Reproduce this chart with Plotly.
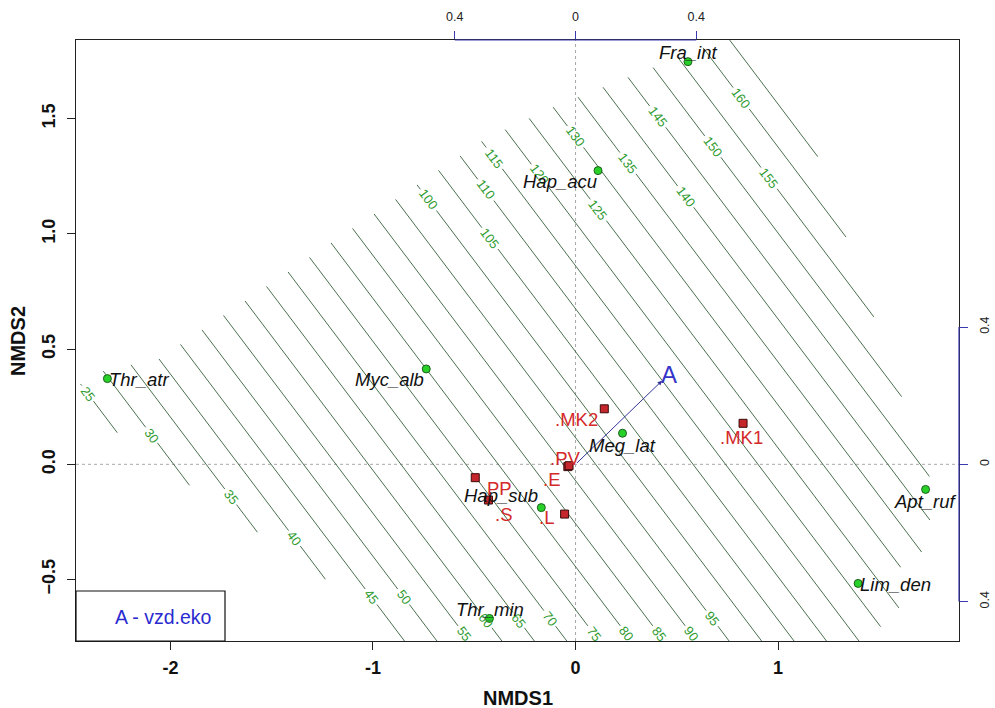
import math
import plotly.graph_objects as go

# ---------------------------------------------------------------------------
# Ordination scores (NMDS1, NMDS2)
# ---------------------------------------------------------------------------
species = ["Fra_int", "Hap_acu", "Thr_atr", "Myc_alb", "Meg_lat",
           "Apt_ruf", "Lim_den", "Hap_sub", "Thr_min"]
species_x = [0.555, 0.111, -2.311, -0.737, 0.232, 1.728, 1.395, -0.169, -0.425]
species_y = [1.748, 1.275, 0.372, 0.414, 0.135, -0.109, -0.517, -0.188, -0.669]

sites = [".MK2", ".MK1", ".PV", ".E", "PP", ".S", ".L"]
site_x = [0.142, 0.827, -0.038, -0.032, -0.495, -0.430, -0.054]
site_y = [0.241, 0.178, -0.010, -0.006, -0.058, -0.155, -0.216]

# Fitted environmental vector (envfit units) and its plotting multiplier
vector_name = "A"
vector_xy = [0.2866, 0.2436]
vector_mul = 1.49
vector_legend = "A - vzd.eko"
vector_ticks = [-0.4, 0.0, 0.4]
vector_ticktext = ["0.4", "0", "0.4"]

# Fitted surface (linear): value = intercept + g1*NMDS1 + g2*NMDS2
surf_intercept = 91.9
surf_grad = [31.2, 26.8]
levels = list(range(25, 170, 5))

# Region over which the surface was evaluated
domain_x = [-2.48, -2.32, -2.06, -0.45, -0.10, 0.78, 1.19, 1.33, 1.75, 1.75,
            1.71, 1.60, 1.60, 1.40, -0.80, -1.20, -2.22]
domain_y = [0.33, 0.41, 0.455, 1.41, 1.555, 1.86, 1.35, 1.0, -0.06, -0.24,
            -0.38, -0.45, -0.62, -0.80, -0.80, -0.52, 0.10]

# ---------------------------------------------------------------------------
# Layout constants
# ---------------------------------------------------------------------------
W, H = 995, 708
ML, MR, MT, MB = 76, 36, 40, 67
XR = [-2.466, 1.893]
YR = [-0.767, 1.842]
FONT = "Liberation Sans, Arial, sans-serif"

sx = (W - ML - MR) / (XR[1] - XR[0])   # px per NMDS1 unit
sy = (H - MT - MB) / (YR[1] - YR[0])   # px per NMDS2 unit

# Where along each contour its label sits (NMDS2 coordinate)
label_at_y = {25: 0.308, 30: 0.127, 35: -0.141, 40: -0.321, 45: -0.575,
              50: -0.575, 55: -0.735, 60: -0.676, 65: -0.676, 70: -0.669,
              75: -0.735, 80: -0.735, 85: -0.735, 90: -0.735, 95: -0.669,
              100: 1.148, 105: 0.981, 110: 1.191, 115: 1.329, 120: 1.256,
              125: 1.104, 130: 1.422, 135: 1.307, 140: 1.162, 145: 1.509,
              150: 1.379, 155: 1.242, 160: 1.589}

# Label placement around points: (xanchor, xshift, yshift)
species_pos = {"Fra_int": ("center", 0, 9), "Hap_acu": ("right", 1, -11),
               "Thr_atr": ("left", 0, -1), "Myc_alb": ("right", 0, -11),
               "Meg_lat": ("center", 0, -12), "Apt_ruf": ("center", 0, -12),
               "Lim_den": ("left", 0, -1), "Hap_sub": ("right", -1, 12),
               "Thr_min": ("center", 1, 9)}
site_pos = {".MK2": ("right", -4, -11), ".MK1": ("center", -2, -14),
            ".PV": ("center", -3, 8), ".E": ("right", -7, -14),
            "PP": ("left", 10, -11), ".S": ("left", 5, -14),
            ".L": ("right", -9, -3)}

LINE_COL = "#35603a"
LAB_COL = "#2e9a2e"

# ---------------------------------------------------------------------------
# Contour lines of the planar surface, clipped to the evaluated region
# ---------------------------------------------------------------------------
g1, g2 = surf_grad
gn = math.hypot(g1, g2)
dx, dy = g2 / gn, -g1 / gn                       # direction along a contour
px_per_t = math.hypot(dx * sx, dy * sy)
poly = list(zip(domain_x, domain_y))
angle = math.degrees(math.atan2(g1 * sy, g2 * sx))
LAB_SIZE = 13


def segments_for(level):
    k = (level - surf_intercept) / (gn * gn)
    p0 = (k * g1, k * g2)
    vals = [surf_intercept + g1 * px + g2 * py - level for px, py in poly]
    ts = []
    n = len(poly)
    for i in range(n):
        j = (i + 1) % n
        a, b = vals[i], vals[j]
        if (a < 0) != (b < 0):
            s = a / (a - b)
            X = poly[i][0] + s * (poly[j][0] - poly[i][0])
            Y = poly[i][1] + s * (poly[j][1] - poly[i][1])
            ts.append((X - p0[0]) * dx + (Y - p0[1]) * dy)
    ts.sort()
    segs = [(ts[i], ts[i + 1]) for i in range(0, len(ts) - 1, 2)]
    return p0, segs


line_x, line_y = [], []
contour_labels = []
for lev in levels:
    p0, segs = segments_for(lev)
    if lev in label_at_y:
        ly = label_at_y[lev]
        lx = (lev - surf_intercept - g2 * ly) / g1
        tl = (lx - p0[0]) * dx + (ly - p0[1]) * dy
        half = (len(str(lev)) * 0.556 * LAB_SIZE / 2 + 2.5) / px_per_t
        cut = []
        for t0, t1 in segs:
            if t1 < tl - half or t0 > tl + half:
                cut.append((t0, t1))
            else:
                if tl - half > t0:
                    cut.append((t0, tl - half))
                if tl + half < t1:
                    cut.append((tl + half, t1))
        segs = cut
        contour_labels.append(dict(
            x=lx, y=ly, xref="x", yref="y", text=str(lev), showarrow=False,
            textangle=angle,
            font=dict(family=FONT, size=LAB_SIZE, color=LAB_COL),
            xanchor="center", yanchor="middle"))
    for t0, t1 in segs:
        for t in (t0, t1):
            line_x.append(p0[0] + t * dx)
            line_y.append(p0[1] + t * dy)
        line_x.append(None)
        line_y.append(None)

fig = go.Figure()

fig.add_trace(go.Scatter(x=line_x, y=line_y, mode="lines",
                         line=dict(color=LINE_COL, width=0.9),
                         hoverinfo="skip", showlegend=False))

fig.add_trace(go.Scatter(x=species_x, y=species_y, mode="markers",
                         marker=dict(symbol="circle", size=8, color="#27d127",
                                     line=dict(color="#1d5e1d", width=1)),
                         showlegend=False, hoverinfo="skip"))

fig.add_trace(go.Scatter(x=site_x, y=site_y, mode="markers",
                         marker=dict(symbol="square", size=8, color="#c4262b",
                                     line=dict(color="#3a0a0a", width=1)),
                         showlegend=False, hoverinfo="skip"))

# invisible trace that carries the vector-scale axes
fig.add_trace(go.Scatter(x=[XR[0] / vector_mul, XR[1] / vector_mul],
                         y=[YR[0] / vector_mul, YR[1] / vector_mul],
                         xaxis="x2", yaxis="y2", mode="markers",
                         marker=dict(opacity=0), showlegend=False,
                         hoverinfo="skip"))

annotations = list(contour_labels)

# environmental vector
tip_x = vector_xy[0] * vector_mul
tip_y = vector_xy[1] * vector_mul
annotations.append(dict(x=tip_x, y=tip_y, ax=0, ay=0, xref="x", yref="y",
                        axref="x", ayref="y", text="", showarrow=True,
                        arrowhead=2, arrowsize=0.9, arrowwidth=1,
                        arrowcolor="#34349a"))
annotations.append(dict(x=tip_x * 1.075, y=tip_y * 1.075, xref="x", yref="y",
                        text=vector_name, showarrow=False,
                        font=dict(family=FONT, size=24, color="#3434c8"),
                        xanchor="center", yanchor="middle"))

for name, x, y in zip(species, species_x, species_y):
    xa, xs, ys = species_pos[name]
    annotations.append(dict(x=x, y=y, xref="x", yref="y",
                            text="<i>%s</i>" % name, showarrow=False,
                            xanchor=xa, yanchor="middle", xshift=xs, yshift=ys,
                            font=dict(family=FONT, size=18.5, color="#111111")))

for name, x, y in zip(sites, site_x, site_y):
    xa, xs, ys = site_pos[name]
    annotations.append(dict(x=x, y=y, xref="x", yref="y", text=name,
                            showarrow=False, xanchor=xa, yanchor="middle",
                            xshift=xs, yshift=ys,
                            font=dict(family=FONT, size=18.5, color="#d42a2a")))

# legend box
box_w = 149 / (W - ML - MR)
box_h = 50 / (H - MT - MB)
annotations.append(dict(x=box_w * 0.585, y=box_h * 0.49, xref="paper",
                        yref="paper", text=vector_legend, showarrow=False,
                        xanchor="center", yanchor="middle",
                        font=dict(family=FONT, size=19.5, color="#2a2ad0")))

# axis titles
annotations.append(dict(x=0.5, y=-57 / (H - MT - MB), xref="paper",
                        yref="paper", text="<b>NMDS1</b>", showarrow=False,
                        xanchor="center", yanchor="middle",
                        font=dict(family=FONT, size=20, color="#111111")))
annotations.append(dict(x=-58.5 / (W - ML - MR), y=0.5, xref="paper",
                        yref="paper", text="<b>NMDS2</b>", showarrow=False,
                        textangle=-90, xanchor="center", yanchor="middle",
                        font=dict(family=FONT, size=20, color="#111111")))

shapes = [
    dict(type="line", xref="x", yref="paper", x0=0, x1=0, y0=0, y1=1,
         line=dict(color="#a8a8a8", width=1, dash="3px,3px"), layer="below"),
    dict(type="line", xref="paper", yref="y", x0=0, x1=1, y0=0, y1=0,
         line=dict(color="#a8a8a8", width=1, dash="3px,3px"), layer="below"),
    dict(type="rect", xref="paper", yref="paper", x0=0, x1=box_w, y0=0,
         y1=box_h, line=dict(color="#111111", width=1.2),
         fillcolor="white", layer="above"),
    # vector-scale axis lines
    dict(type="line", xref="x", yref="paper",
         x0=vector_ticks[0] * vector_mul, x1=vector_ticks[-1] * vector_mul,
         y0=1, y1=1, line=dict(color="#3a3ab0", width=1.2), layer="above"),
    dict(type="line", xref="paper", yref="y", x0=1, x1=1,
         y0=vector_ticks[0] * vector_mul, y1=vector_ticks[-1] * vector_mul,
         line=dict(color="#3a3ab0", width=1.2), layer="above"),
]

tickfont = dict(family=FONT, size=18, color="#111111", weight="bold")
small_font = dict(family=FONT, size=12.5, color="#222222")
fig.update_layout(
    width=W, height=H,
    margin=dict(l=ML, r=MR, t=MT, b=MB, pad=0, autoexpand=False),
    paper_bgcolor="white", plot_bgcolor="white",
    showlegend=False, hovermode=False,
    xaxis=dict(range=XR, tickvals=[-2, -1, 0, 1], ticktext=["-2", "-1", "0", "1"],
               ticks="outside", ticklen=8, tickwidth=1, tickcolor="#222222",
               showline=True, mirror=True, linecolor="#222222", linewidth=1.3,
               showgrid=False, zeroline=False, tickfont=tickfont,
               ticklabelstandoff=2, automargin=False),
    yaxis=dict(range=YR, tickvals=[-0.5, 0, 0.5, 1.0, 1.5], tickformat=".1f",
               ticks="outside", ticklen=8, tickwidth=1, tickcolor="#222222",
               showline=True, mirror=True, linecolor="#222222", linewidth=1.3,
               showgrid=False, zeroline=False, tickfont=tickfont,
               tickangle=-90, ticklabelstandoff=5, automargin=False),
    xaxis2=dict(overlaying="x", side="top", anchor="y",
                range=[XR[0] / vector_mul, XR[1] / vector_mul],
                tickvals=vector_ticks, ticktext=vector_ticktext,
                ticks="outside", ticklen=8, tickwidth=1, tickcolor="#3a3ab0",
                showline=False, showgrid=False, zeroline=False,
                tickfont=small_font, ticklabelstandoff=5, automargin=False),
    yaxis2=dict(overlaying="y", side="right", anchor="x",
                range=[YR[0] / vector_mul, YR[1] / vector_mul],
                tickvals=vector_ticks, ticktext=vector_ticktext,
                ticks="outside", ticklen=8, tickwidth=1, tickcolor="#3a3ab0",
                showline=False, showgrid=False, zeroline=False, tickangle=-90,
                tickfont=small_font, ticklabelstandoff=6, automargin=False),
    annotations=annotations,
    shapes=shapes,
)

fig.write_html("out.html", config={"displayModeBar": False})
